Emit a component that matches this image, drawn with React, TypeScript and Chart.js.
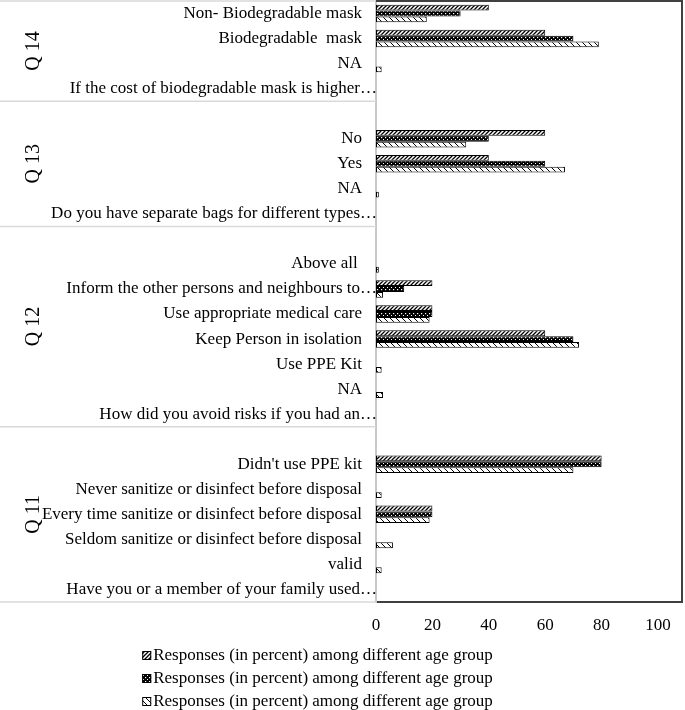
import React, { useEffect, useRef } from 'react';
import { Chart, registerables } from 'chart.js';

Chart.register(...registerables);

const categories: string[] = [
  'Non- Biodegradable mask',
  'Biodegradable  mask',
  'NA',
  'If the cost of biodegradable mask is higher…',
  '',
  'No',
  'Yes',
  'NA',
  'Do you have separate bags for different types…',
  '',
  'Above all ',
  'Inform the other persons and neighbours to…',
  'Use appropriate medical care',
  'Keep Person in isolation',
  'Use PPE Kit',
  'NA',
  'How did you avoid risks if you had an…',
  '',
  "Didn't use PPE kit",
  'Never sanitize or disinfect before disposal',
  'Every time sanitize or disinfect before disposal',
  'Seldom sanitize or disinfect before disposal',
  'valid',
  'Have you or a member of your family used…',
];

const groupNames: string[] = ['Q 14', 'Q 13', 'Q 12', 'Q 11'];
const groupSizes: number[] = [4, 5, 8, 7];

const seriesNames: string[] = [
  'Responses (in percent) among different age group',
  'Responses (in percent) among different age group',
  'Responses (in percent) among different age group',
];

const series1: (number | null)[] = [
  40, 60, null, null,
  null, 60, 40, null, null,
  null, null, 20, 20, 60, null, null, null,
  null, 80, null, 20, null, null, null,
];
const series2: (number | null)[] = [
  30, 70, null, null,
  null, 40, 60, null, null,
  null, null, 10, 20, 70, null, null, null,
  null, 80, null, 20, null, null, null,
];
const series3: (number | null)[] = [
  18, 79, 2, null,
  null, 32, 67, 1, null,
  null, 1, 2.5, 19, 72, 2, 2.5, null,
  null, 70, 2, 19, 6, 2, null,
];

const xTicks: number[] = [0, 20, 40, 60, 80, 100];

const FONT = "'Liberation Serif', 'Times New Roman', serif";

function makePattern(kind: number): CanvasPattern | string {
  const c = document.createElement('canvas');
  const size = kind === 3 ? 6 : 4;
  c.width = size;
  c.height = size;
  const g = c.getContext('2d');
  if (!g) return '#888';
  if (kind === 1) {
    g.fillStyle = '#fff';
    g.fillRect(0, 0, 4, 4);
    g.strokeStyle = '#000';
    g.lineWidth = 1.3;
    g.beginPath();
    g.moveTo(0, 4); g.lineTo(4, 0);
    g.moveTo(-1, 1); g.lineTo(1, -1);
    g.moveTo(3, 5); g.lineTo(5, 3);
    g.stroke();
  } else if (kind === 2) {
    g.fillStyle = '#000';
    g.fillRect(0, 0, 4, 4);
    g.fillStyle = '#fff';
    g.fillRect(1, 1, 1.2, 1.2);
    g.fillRect(3, 3, 1, 1);
  } else {
    g.fillStyle = '#fff';
    g.fillRect(0, 0, 6, 6);
    g.strokeStyle = '#000';
    g.lineWidth = 1;
    g.beginPath();
    g.moveTo(0, 0); g.lineTo(6, 6);
    g.stroke();
  }
  const p = g.createPattern(c, 'repeat');
  return p || '#888';
}

export default function App() {
  const ref = useRef<HTMLCanvasElement>(null);

  useEffect(() => {
    const canvas = ref.current;
    if (!canvas) return;
    const patterns = [makePattern(1), makePattern(2), makePattern(3)];

    const decor = {
      id: 'decor',
      afterDraw(chart: any) {
        const { ctx, chartArea } = chart;
        const y = chart.scales.y;
        ctx.save();
        // top and right frame
        ctx.strokeStyle = '#404040';
        ctx.lineWidth = 2;
        ctx.beginPath();
        ctx.moveTo(chartArea.left, chartArea.top);
        ctx.lineTo(chartArea.right, chartArea.top);
        ctx.lineTo(chartArea.right, chartArea.bottom);
        ctx.stroke();

        // group separators and labels
        const slot = y.getPixelForValue(1) - y.getPixelForValue(0);
        const bounds: number[] = [chartArea.top];
        let idx = 0;
        groupSizes.forEach((n, gi) => {
          idx += n;
          bounds.push(gi === groupSizes.length - 1 ? chartArea.bottom : y.getPixelForValue(idx) - slot / 2);
        });
        ctx.strokeStyle = '#d9d9d9';
        ctx.lineWidth = 1.5;
        bounds.forEach((b) => {
          ctx.beginPath();
          ctx.moveTo(0, b);
          ctx.lineTo(chartArea.left, b);
          ctx.stroke();
        });
        ctx.fillStyle = '#000';
        ctx.font = `20px ${FONT}`;
        ctx.textAlign = 'center';
        ctx.textBaseline = 'middle';
        groupNames.forEach((name, gi) => {
          const cy = (bounds[gi] + bounds[gi + 1]) / 2;
          ctx.save();
          ctx.translate(34, cy);
          ctx.rotate(-Math.PI / 2);
          ctx.fillText(name, 0, 0);
          ctx.restore();
        });

        // category labels
        ctx.font = `17px ${FONT}`;
        ctx.textAlign = 'right';
        categories.forEach((lab, i) => {
          if (!lab) return;
          const py = y.getPixelForValue(i);
          const px = lab.endsWith('…') ? chartArea.left + 1 : chartArea.left - 14;
          ctx.fillText(lab, px, py);
        });

        // legend
        ctx.textAlign = 'left';
        chart.data.datasets.forEach((ds: any, i: number) => {
          const w = ctx.measureText(ds.label).width;
          const itemW = 11 + w;
          const sx = chart.width / 2 - 25 - itemW / 2;
          const ly = chartArea.bottom + 54 + i * 23;
          ctx.fillStyle = ds.backgroundColor;
          ctx.fillRect(sx, ly - 5, 9, 9);
          ctx.strokeStyle = '#000';
          ctx.lineWidth = 1;
          ctx.strokeRect(sx + 0.5, ly - 4.5, 8, 8);
          ctx.fillStyle = '#000';
          ctx.fillText(ds.label, sx + 11, ly);
        });
        ctx.restore();
      },
    };

    const chart = new Chart(canvas, {
      type: 'bar',
      data: {
        labels: categories,
        datasets: [series1, series2, series3].map((d, i) => ({
          label: seriesNames[i],
          data: d,
          backgroundColor: patterns[i] as any,
          borderColor: '#000',
          borderWidth: 1,
          borderSkipped: false,
          categoryPercentage: 0.7,
          barPercentage: 1,
        })),
      },
      options: {
        indexAxis: 'y',
        responsive: false,
        animation: false,
        devicePixelRatio: 1,
        layout: { padding: { top: 1, right: 3, bottom: 78, left: 0 } },
        plugins: {
          legend: { display: false },
          tooltip: { enabled: false },
        },
        scales: {
          x: {
            type: 'linear',
            min: 0,
            max: 108.5,
            grid: { display: false },
            border: { display: true, color: '#404040', width: 2 },
            ticks: {
              stepSize: 20,
              color: '#000',
              padding: 5,
              font: { family: FONT, size: 17 },
            },
            afterBuildTicks: (s: any) => {
              s.ticks = xTicks.map((v) => ({ value: v }));
            },
            afterFit: (s: any) => {
              s.height = 30;
            },
          },
          y: {
            type: 'category',
            grid: { display: false },
            border: { display: true, color: '#c8c8c8', width: 2 },
            ticks: { display: false, autoSkip: false },
            afterFit: (s: any) => {
              s.width = 376;
            },
          },
        },
      },
      plugins: [decor],
    });

    return () => chart.destroy();
  }, []);

  return (
    <div style={{ position: 'absolute', left: 0, top: 0, width: 685, height: 710, background: '#fff' }}>
      <canvas ref={ref} width={685} height={710} style={{ display: 'block' }} />
    </div>
  );
}
